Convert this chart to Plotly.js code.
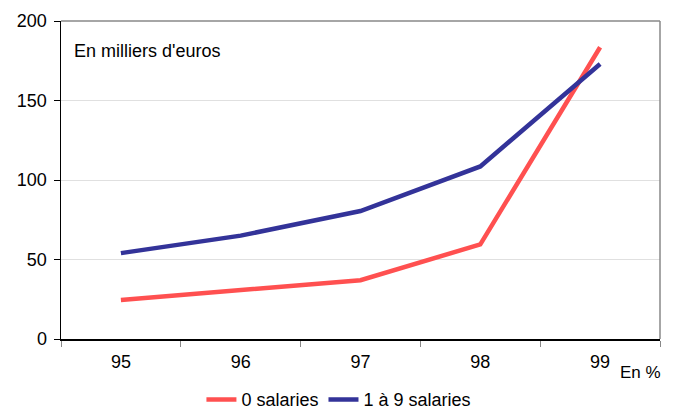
<!DOCTYPE html>
<html>
<head>
<meta charset="utf-8">
<script src="https://cdn.plot.ly/plotly-3.0.1.min.js"></script>
<style>html,body{margin:0;padding:0;background:#fff;}#chart{width:679px;height:410px;}</style>
</head>
<body>
<div id="chart"></div>
<script>
const years = ["95", "96", "97", "98", "99"];
const salaries0 = [24.5, 31, 37, 59.5, 183.5];
const salaries1to9 = [54, 65, 80.5, 108.5, 173];
const seriesNames = ["0 salaries", "1 à 9 salaries"];

const font = "Liberation Sans, Arial, sans-serif";

const traces = [
  {x: years, y: salaries0, name: seriesNames[0], type: "scatter", mode: "lines",
   line: {color: "#FF5050", width: 4.5}},
  {x: years, y: salaries1to9, name: seriesNames[1], type: "scatter", mode: "lines",
   line: {color: "#333399", width: 4.5}}
];

const layout = {
  width: 679, height: 410,
  margin: {l: 61, r: 19, t: 21, b: 71, autoexpand: false},
  paper_bgcolor: "#fff", plot_bgcolor: "#fff",
  font: {family: font, size: 18, color: "#000"},
  showlegend: true,
  legend: {orientation: "h", x: 0.464, xanchor: "center", yref: "container", y: 0.025, yanchor: "middle",
           font: {family: font, size: 18}, traceorder: "normal"},
  xaxis: {type: "category", range: [-0.5, 4.5], showgrid: false, zeroline: false,
          showline: true, linecolor: "#000", linewidth: 1.5,
          ticks: "outside", tickson: "boundaries", ticklen: 6, tickcolor: "#888", tickwidth: 1,
          ticklabelstandoff: 6, tickfont: {family: font, size: 18}},
  yaxis: {range: [0, 200], tickvals: [0, 50, 100, 150, 200], showgrid: true, gridcolor: "#e0e0e0",
          zeroline: false, showline: true, linecolor: "#000", linewidth: 1.5,
          ticks: "outside", ticklen: 6, tickcolor: "#000", ticklabelstandoff: 3,
          tickfont: {family: font, size: 18}},
  shapes: [
    {type: "line", xref: "paper", yref: "paper", x0: 0, x1: 1, y0: 1, y1: 1, line: {color: "#888", width: 1.5}},
    {type: "line", xref: "paper", yref: "paper", x0: 1, x1: 1, y0: 0, y1: 1, line: {color: "#888", width: 1.5}}
  ],
  annotations: [
    {text: "En milliers d'euros", xref: "paper", yref: "paper", x: 0.018, y: 0.905,
     xanchor: "left", yanchor: "middle", showarrow: false, font: {family: font, size: 18}},
    {text: "En %", xref: "paper", yref: "paper", x: 1.005, y: -0.105,
     xanchor: "right", yanchor: "middle", showarrow: false, font: {family: font, size: 17}}
  ]
};

Plotly.newPlot("chart", traces, layout, {displayModeBar: false, staticPlot: true});
</script>
</body>
</html>
